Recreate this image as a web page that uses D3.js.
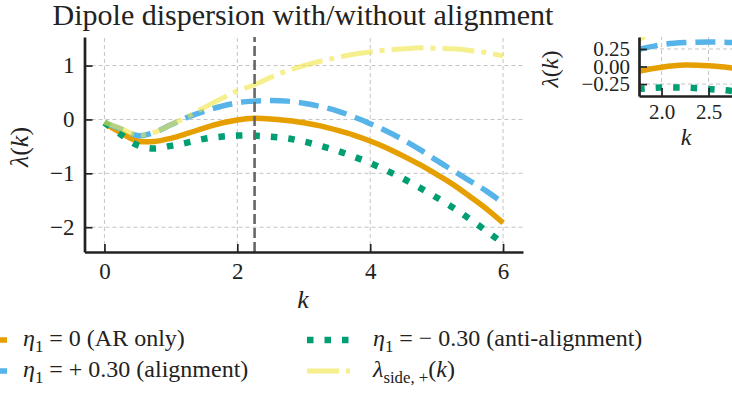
<!DOCTYPE html>
<html>
<head>
<meta charset="utf-8">
<script src="https://cdn.jsdelivr.net/npm/d3@7"></script>
<style>
	body { margin: 0; background: #fff; }
	svg text { font-family: "Liberation Serif", "Times New Roman", serif; fill: #222; }
</style>
</head>
<body>
<svg id="dispersion" width="732" height="394"></svg>
<script>
// values
const kValues     = [0, 0.25, 0.5, 0.75, 1, 1.25, 1.5, 1.75, 2, 2.25, 2.5, 2.75, 3, 3.25, 3.5, 3.75, 4, 4.25, 4.5, 4.75, 5, 5.25, 5.5, 5.75, 6];
const lambdaAR    = [-0.07, -0.25, -0.40, -0.41, -0.35, -0.26, -0.16, -0.07, -0.01, 0.02, 0.01, -0.02, -0.06, -0.12, -0.20, -0.29, -0.40, -0.53, -0.68, -0.84, -1.02, -1.21, -1.43, -1.66, -1.92];
const lambdaAlign = [-0.06, -0.18, -0.30, -0.24, -0.10, 0.04, 0.15, 0.24, 0.31, 0.34, 0.35, 0.34, 0.30, 0.24, 0.16, 0.05, -0.08, -0.22, -0.38, -0.56, -0.76, -0.95, -1.14, -1.33, -1.55];
const lambdaAnti  = [-0.06, -0.28, -0.48, -0.54, -0.49, -0.43, -0.36, -0.32, -0.30, -0.30, -0.32, -0.35, -0.41, -0.49, -0.58, -0.69, -0.81, -0.95, -1.10, -1.27, -1.45, -1.64, -1.85, -2.07, -2.30];
const lambdaSide  = [-0.05, -0.17, -0.29, -0.24, -0.10, 0.05, 0.22, 0.38, 0.53, 0.64, 0.78, 0.90, 1.00, 1.08, 1.15, 1.21, 1.25, 1.29, 1.31, 1.33, 1.32, 1.31, 1.28, 1.24, 1.18];
const kStar = 2.26;

const xTicks = [0, 2, 4, 6];
const yTicks = [-2, -1, 0, 1];
const insetXTicks = [2.0, 2.5];
const insetYTicks = [-0.25, 0, 0.25];

const titleText = "Dipole dispersion with/without alignment";
const legendLabels = [
	[["η", "i"], ["1", "s"], [" = 0 (AR only)", ""]],
	[["η", "i"], ["1", "s"], [" = + 0.30 (alignment)", ""]],
	[["η", "i"], ["1", "s"], [" = − 0.30 (anti-alignment)", ""]],
	[["λ", "i"], ["side, +", "s"], ["(", ""], ["k", "i"], [")", ""]]
];

const series = [
	{ values: lambdaAR,    color: "#E69F00", width: 5.5, dash: null },
	{ values: lambdaAlign, color: "#56B4E9", width: 5.5, dash: "20,9" },
	{ values: lambdaAnti,  color: "#009E73", width: 6.5, dash: "6.5,11" },
	{ values: lambdaSide,  color: "#F0E442", width: 5,   dash: "32,7,5,7", opacity: 0.6 }
];

const svg = d3.select("#dispersion");

// text with italic parts and subscripts, sub parts dropped then raised back
function mathText(sel, parts, size) {
	let down = 0;
	parts.forEach(function(p) {
		const t = sel.append("tspan").text(p[0]);
		if (p[1] === "i") t.style("font-style", "italic");
		if (p[1] === "s") {
			t.style("font-size", (size * 0.7) + "px").attr("dy", size * 0.25);
			down = size * 0.25;
		} else if (down) {
			t.attr("dy", -down);
			down = 0;
		}
	});
}

function drawPanel(g, x, y, xt, yt, fmtX, fmtY, fs, pad, clipId) {
	const [x0, x1] = x.range(), [y0, y1] = y.range();

	g.append("clipPath").attr("id", clipId).append("rect")
		.attr("x", x0).attr("y", y1).attr("width", x1 - x0).attr("height", y0 - y1);

	const grid = g.append("g").attr("stroke", "#c4c4c4").attr("stroke-width", 1).attr("stroke-dasharray", "4,3");
	grid.selectAll(".gx").data(xt).enter().append("line")
		.attr("x1", d => x(d)).attr("x2", d => x(d)).attr("y1", y0).attr("y2", y1);
	grid.selectAll(".gy").data(yt).enter().append("line")
		.attr("y1", d => y(d)).attr("y2", d => y(d)).attr("x1", x0).attr("x2", x1);

	const line = d3.line().x((d, i) => x(kValues[i])).y(d => y(d)).curve(d3.curveCatmullRom.alpha(0.5));
	const lines = g.append("g").attr("clip-path", "url(#" + clipId + ")");
	series.forEach(function(s) {
		lines.append("path")
			.attr("d", line(s.values))
			.attr("fill", "none")
			.attr("stroke", s.color)
			.attr("stroke-width", s.width)
			.attr("stroke-opacity", s.opacity || 1)
			.attr("stroke-dasharray", s.dash);
	});

	const xAxis = g.append("g").attr("transform", "translate(0," + y0 + ")")
		.call(d3.axisBottom(x).tickValues(xt).tickFormat(fmtX).tickSizeInner(-8).tickSizeOuter(0).tickPadding(pad[0]));
	const yAxis = g.append("g").attr("transform", "translate(" + x0 + ",0)")
		.call(d3.axisLeft(y).tickValues(yt).tickFormat(fmtY).tickSizeInner(-8).tickSizeOuter(0).tickPadding(pad[1]));
	[xAxis, yAxis].forEach(function(a) {
		a.select(".domain").attr("stroke", "#222").attr("stroke-width", 2.7);
		a.selectAll(".tick line").attr("stroke", "#222").attr("stroke-width", 1.7);
		a.selectAll(".tick text").style("font-size", fs + "px");
	});
	return lines;
}

// main panel
const x = d3.scaleLinear().domain([-0.3, 6.3]).range([84.5, 523]);
const y = d3.scaleLinear().domain([-2.46, 1.53]).range([252, 37]);
const mainLines = drawPanel(svg.append("g"), x, y, xTicks, yTicks, d3.format("d"), d3.format("d"), 23, [11, 10], "clipMain");

mainLines.append("line")
	.attr("x1", x(kStar)).attr("x2", x(kStar)).attr("y1", y.range()[0]).attr("y2", y.range()[1])
	.attr("stroke", "#666").attr("stroke-width", 2.6).attr("stroke-dasharray", "10,4");

svg.append("text").attr("x", 303).attr("y", 25).attr("text-anchor", "middle")
	.style("font-size", "30px").text(titleText);

svg.append("text").attr("x", 303).attr("y", 308).attr("text-anchor", "middle")
	.style("font-size", "26px").style("font-style", "italic").text("k");

const yl = svg.append("text").attr("transform", "translate(28,147) rotate(-90)").attr("text-anchor", "middle")
	.style("font-size", "26px");
mathText(yl, [["λ", "i"], ["(", ""], ["k", "i"], [")", ""]], 26);

// inset zoom around k*
const xi = d3.scaleLinear().domain([kStar - 0.5, kStar + 0.5]).range([639, 733]);
const yi = d3.scaleLinear().domain([-0.42, 0.42]).range([96, 37]);
drawPanel(svg.append("g"), xi, yi, insetXTicks, insetYTicks, d3.format(".1f"), d3.format(".2f"), 21, [8, 9], "clipInset");

svg.append("text").attr("x", 686).attr("y", 145).attr("text-anchor", "middle")
	.style("font-size", "24px").style("font-style", "italic").text("k");
const yli = svg.append("text").attr("transform", "translate(558,69) rotate(-90)").attr("text-anchor", "middle")
	.style("font-size", "24px");
mathText(yli, [["λ", "i"], ["(", ""], ["k", "i"], [")", ""]], 24);

// legend, two columns
const legendPos = [
	{ hx: -36, tx: 23,  y: 340 },
	{ hx: -36, tx: 23,  y: 371 },
	{ hx: 307, tx: 373, y: 340 },
	{ hx: 307, tx: 373, y: 371 }
];
const legend = svg.append("g");
series.forEach(function(s, i) {
	const p = legendPos[i];
	legend.append("line")
		.attr("x1", p.hx).attr("x2", p.hx + 43).attr("y1", p.y).attr("y2", p.y)
		.attr("stroke", s.color).attr("stroke-width", s.width)
		.attr("stroke-opacity", s.opacity || 1).attr("stroke-dasharray", s.dash);
	const t = legend.append("text").attr("x", p.tx).attr("y", p.y + 6).style("font-size", "24px");
	mathText(t, legendLabels[i], 24);
});
</script>
</body>
</html>
